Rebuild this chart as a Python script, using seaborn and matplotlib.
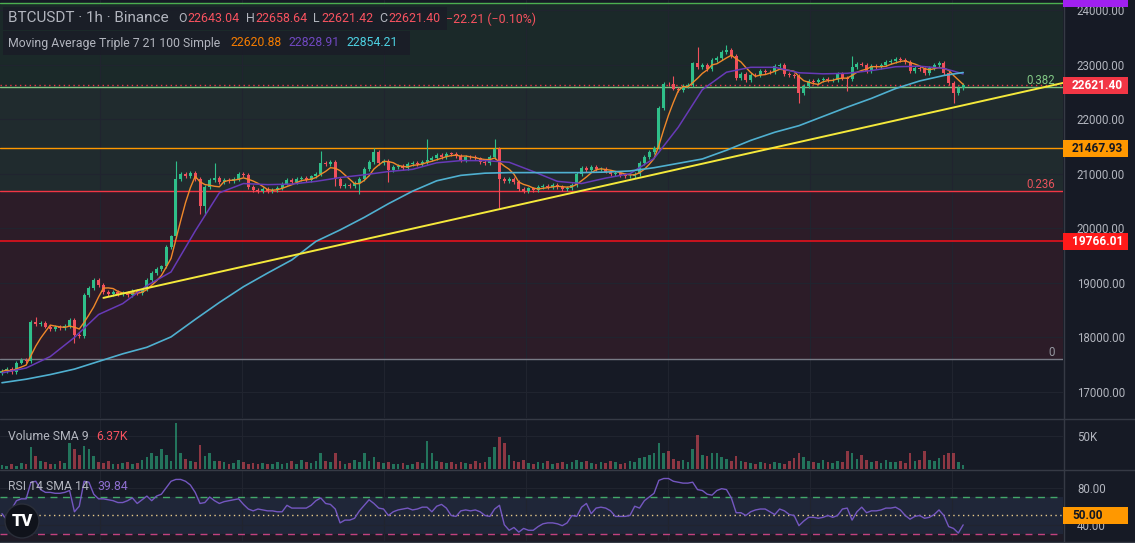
import numpy as np
import pandas as pd
import matplotlib
matplotlib.use("Agg")
import matplotlib.pyplot as plt
import seaborn as sns
from matplotlib.patches import Rectangle, Circle
from matplotlib.lines import Line2D
from matplotlib.transforms import IdentityTransform, blended_transform_factory

# ---- data (1h candles, BTCUSDT) ----
close = [17380, 17420, 17360, 17540, 17590, 17560, 18280, 18240, 18260, 18200,
         18150, 18190, 18170, 18210, 18320, 18050, 18020, 18780, 18900, 19050,
         18960, 18830, 18800, 18840, 18790, 18810, 18780, 18850, 18820, 18880,
         19050, 19180, 19260, 19300, 19650, 19850, 20900, 21000, 20950, 21010,
         20900, 20400, 20750, 20880, 20920, 20850, 20880, 20860, 20900, 21000,
         20980, 20750, 20700, 20690, 20720, 20680, 20700, 20740, 20820, 20880,
         20850, 20900, 20920, 20880, 20950, 21000, 21200, 21180, 21220, 20900,
         20780, 20800, 20780, 20830, 20900, 21080, 21220, 21400, 21200, 21230,
         21060, 21120, 21150, 21110, 21180, 21200, 21170, 21220, 21260, 21290,
         21340, 21300, 21370, 21360, 21330, 21250, 21310, 21300, 21280, 21220,
         21190, 21300, 21450, 20900, 20860, 20900, 20850, 20720, 20690, 20730,
         20700, 20760, 20780, 20750, 20800, 20760, 20720, 20740, 20800, 21000,
         21100, 21060, 21120, 21080, 21090, 21040, 20990, 21010, 20980, 20950,
         20960, 21000, 21200, 21300, 21400, 21480, 22200, 22650, 22640, 22560,
         22540, 22600, 22620, 23020, 22960, 22990, 22920, 23080, 23120, 23230,
         23260, 23160, 22760, 22830, 22720, 22810, 22800, 22880, 22870, 22860,
         22970, 22990, 22830, 22810, 22790, 22480, 22610, 22700, 22680, 22710,
         22730, 22710, 22720, 22830, 22760, 22740, 22950, 23010, 23000, 22880,
         22970, 22950, 23000, 23040, 23060, 23100, 23090, 23050, 22880, 22930,
         22920, 22850, 22940, 22990, 23030, 22850, 22660, 22480, 22570, 22621.4]
first_open = 17350

# long wicks (USD beyond the body); other candles use a short default wick
default_wick = 35
hi_wicks = {7: 100, 36: 340, 44: 270, 66: 220, 77: 80, 88: 380, 102: 190,
            139: 150, 144: 300, 150: 100, 176: 210}
lo_wicks = {15: 150, 41: 130, 42: 160, 69: 120, 74: 210, 80: 220, 103: 520,
            165: 180, 175: 220, 197: 180}

volume_k = [6, 5, 8, 5, 9, 7, 33, 20, 12, 10,
            8, 7, 12, 9, 40, 30, 22, 35, 30, 20,
            10, 9, 12, 8, 7, 9, 10, 8, 9, 14,
            18, 25, 20, 30, 22, 12, 70, 25, 15, 12,
            10, 36, 20, 25, 12, 12, 10, 8, 9, 14,
            10, 8, 9, 7, 9, 8, 7, 10, 8, 9,
            12, 8, 14, 10, 9, 12, 25, 12, 10, 25,
            12, 8, 9, 14, 10, 25, 12, 18, 10, 9,
            11, 8, 7, 9, 6, 8, 10, 9, 42, 25,
            12, 10, 9, 11, 8, 10, 9, 8, 12, 9,
            10, 18, 33, 48, 39, 22, 12, 10, 14, 9,
            8, 10, 9, 12, 8, 9, 10, 8, 11, 14,
            10, 12, 9, 8, 10, 9, 12, 10, 8, 9,
            12, 10, 16, 18, 22, 25, 39, 25, 28, 15,
            12, 14, 10, 30, 52, 22, 20, 25, 25, 18,
            15, 12, 20, 12, 10, 9, 8, 11, 9, 8,
            10, 9, 8, 12, 16, 25, 18, 12, 10, 9,
            14, 11, 9, 12, 10, 28, 25, 15, 22, 14,
            10, 12, 9, 14, 11, 10, 12, 9, 25, 12,
            14, 27, 14, 12, 16, 22, 25, 25, 10, 6]

rsi = [52, 45, 57, 66, 68, 68, 86, 87, 78, 75,
       75, 74, 74, 75, 77, 54, 60, 87, 86, 73,
       68, 68, 67, 66, 64, 64, 66, 69, 63, 67,
       71, 66, 71, 73, 80, 87, 89, 89, 87, 83,
       75, 63, 64, 70, 66, 63, 65, 66, 67, 68,
       62, 57, 55, 57, 56, 55, 55, 54, 54, 61,
       58, 58, 58, 58, 61, 66, 69, 63, 62, 57,
       42, 45, 45, 47, 55, 61, 67, 63, 58, 57,
       50, 54, 56, 57, 58, 56, 57, 59, 59, 54,
       60, 62, 58, 50, 49, 55, 56, 55, 56, 54,
       50, 49, 57, 61, 40, 34, 37, 32, 36, 34,
       34, 38, 41, 42, 42, 41, 39, 42, 50, 49,
       59, 63, 52, 58, 59, 58, 55, 49, 49, 49,
       50, 60, 58, 66, 70, 74, 88, 90, 90, 87,
       86, 85, 85, 86, 78, 77, 73, 72, 77, 79,
       78, 69, 53, 53, 50, 54, 56, 57, 57, 54,
       51, 57, 55, 51, 50, 39, 44, 48, 48, 47,
       48, 50, 48, 50, 57, 58, 45, 54, 59, 53,
       55, 55, 56, 58, 58, 59, 56, 50, 46, 49,
       50, 47, 48, 51, 56, 50, 38, 36, 31, 39.84]

# moving averages read every 5 hours
ma_hours = list(range(0, 200, 5)) + [199]
sma21 = [17350, 17440, 17650, 18000, 18420, 18620, 18950, 19200, 19950, 20650,
         20820, 20800, 20810, 20860, 20930, 20980, 21040, 21080, 21200, 21240,
         21240, 21210, 21040, 20860, 20820, 20920, 21000, 21280, 21850, 22540,
         22860, 22950, 22950, 22850, 22830, 22840, 22890, 22960, 22970, 22930, 22828.91]
sma100 = [17170, 17235, 17320, 17420, 17560, 17700, 17820, 18010, 18330, 18640,
          18930, 19180, 19420, 19760, 19970, 20200, 20450, 20680, 20870, 20970,
          21010, 21020, 21020, 21020, 21020, 21030, 21050, 21110, 21190, 21270,
          21430, 21610, 21760, 21880, 22050, 22220, 22380, 22560, 22700, 22800, 22854.21]

trend_hours = [21, 219.7]
trend_prices = [18725, 22664]

fib_low, fib_high = 17605, 30647
fib_levels = [0, 0.236, 0.382, 0.5]
fib_colors = ['#787b86', '#f23645', '#81c784', '#4caf50']
level_orange = 21467.93
level_red = 19766.01
last_price = 22621.40
price_ticks = [17000, 18000, 19000, 20000, 21000, 22000, 23000, 24000]

# ---- frame ----
df = pd.DataFrame({'hour': np.arange(len(close)), 'close': close,
                   'volume': np.array(volume_k) * 1000.0, 'rsi': rsi})
df['open'] = df['close'].shift(1).fillna(first_open)
df['high'] = df[['open', 'close']].max(axis=1) + [hi_wicks.get(i, default_wick) for i in df.hour]
df['low'] = df[['open', 'close']].min(axis=1) - [lo_wicks.get(i, default_wick) for i in df.hour]
df['up'] = df['close'] >= df['open']
df['sma7'] = df['close'].rolling(5, min_periods=1).mean()
fib_prices = [fib_low + r * (fib_high - fib_low) for r in fib_levels]

BG = '#161a25'
TXT = '#b2b5be'
UP, DOWN = '#2fbf8a', '#f0505c'
SEP = '#363a45'
GRID = '#20242f'

sns.set_style("dark", rc={'axes.facecolor': BG, 'figure.facecolor': BG})
plt.rcParams['font.family'] = ['Roboto', 'DejaVu Sans']

W, H = 1135, 543
fig = plt.figure(figsize=(W / 100, H / 100), dpi=100)
px = IdentityTransform()


def fy(y):
    return 1 - y / H


ax = fig.add_axes([0, fy(418), 1063 / W, 418 / H])
axv = fig.add_axes([0, fy(469), 1063 / W, 50 / H], sharex=ax)
axr = fig.add_axes([0, fy(541), 1063 / W, 71 / H], sharex=ax)

xlim = (-0.41, 219.67)
ax.set_xlim(*xlim)
ax.set_ylim(16524, 24183)
axv.set_ylim(0, 76000)
axr.set_ylim(22.4, 99.2)

grid_hours = np.arange(20.3, 220, 29.4)
for a in (ax, axv, axr):
    a.set_facecolor(BG)
    for s in a.spines.values():
        s.set_visible(False)
    a.set_xticks(grid_hours)
    a.tick_params(axis='x', labelbottom=False, length=0)
    a.yaxis.tick_right()
    a.tick_params(axis='y', colors=TXT, labelsize=8.3, length=0, pad=10)
    a.grid(True, color=GRID, lw=0.8, zorder=0)
    a.set_axisbelow(True)

# ---- main price pane ----
ax.set_yticks(price_ticks)
ax.set_yticklabels([f'{p:.2f}' for p in price_ticks])

for lo_p, hi_p, c in zip(fib_prices[:-1], fib_prices[1:], fib_colors[1:]):
    ax.axhspan(lo_p, hi_p, color=c, alpha=0.1, lw=0, zorder=0.5)
for p, c in zip(fib_prices, fib_colors):
    ax.axhline(p, color=c, lw=1, zorder=1)
ax.axhline(level_orange, color='#ff9800', lw=1, zorder=1)
ax.axhline(level_red, color='#e3121d', lw=1.2, zorder=1)
ax.axhline(last_price, color='#f23645', lw=1, ls=(0, (1, 2.5)), zorder=1)

colors = np.where(df['up'], UP, DOWN)
ax.vlines(df['hour'], df['low'], df['high'], colors=colors, lw=0.8, zorder=2)
body = (df['close'] - df['open']).abs().clip(lower=12)
ax.bar(df['hour'], body, bottom=df[['open', 'close']].min(axis=1), width=0.62,
       color=colors, lw=0, zorder=3)

sns.lineplot(x=df['hour'], y=df['sma7'], ax=ax, color='#f0882a', lw=1, zorder=4)
sns.lineplot(x=ma_hours, y=sma21, ax=ax, color='#673ab7', lw=1.1, zorder=4)
sns.lineplot(x=ma_hours, y=sma100, ax=ax, color='#4fb0d0', lw=1.2, zorder=4)
sns.lineplot(x=trend_hours, y=trend_prices, ax=ax, color='#f5e93b', lw=1.4, zorder=5)
ax.set_xlabel('')
ax.set_ylabel('')

blend = blended_transform_factory(ax.transAxes, ax.transData)
for p, r, c in zip(fib_prices[:3], fib_levels[:3], ['#9598a1', '#e8535c', '#81c784']):
    lab = '0' if r == 0 else f'{r:g}'
    ax.annotate(lab, xy=(1, p), xycoords=blend, xytext=(-6, 5), textcoords='offset points',
                ha='right', va='center', color=c, fontsize=8.3)

# ---- volume pane ----
axv.bar(df['hour'], df['volume'], width=0.55, color=colors, alpha=0.55, lw=0, zorder=2)
axv.set_yticks([50000])
axv.set_yticklabels(['50K'])

# ---- RSI pane ----
axr.axhspan(30, 70, color='#1f2638', lw=0, zorder=0.5)
axr.axhspan(22.4, 30, color='#f23645', alpha=0.04, lw=0, zorder=0.5)
axr.axhline(70, color='#43a86a', lw=1, ls=(0, (5, 4)), zorder=1)
axr.axhline(30, color='#c2417f', lw=1, ls=(0, (5, 4)), zorder=1)
axr.axhline(50, color='#e6c98a', lw=1, ls=(0, (1, 2.5)), zorder=1)
sns.lineplot(x=df['hour'], y=df['rsi'], ax=axr, color='#7457c0', lw=1, zorder=3)
axr.set_yticks([40, 80])
axr.set_yticklabels(['40.00', '80.00'])
for a in (axv, axr):
    a.set_xlabel('')
    a.set_ylabel('')
    a.set_xlim(*xlim)

# ---- separators ----
for y in (418.5, 469.5, 541.5):
    fig.add_artist(Line2D([0, W], [H - y, H - y], transform=px, color=SEP, lw=1))
fig.add_artist(Line2D([1063.5, 1063.5], [0, H], transform=px, color=SEP, lw=1))


# ---- price labels on the scale ----
def scale_label(axis, value, text, fc, tc):
    yd = axis.transData.transform((0, value))[1]
    fig.add_artist(Rectangle((1063, yd - 8.5), 65, 17, transform=px, fc=fc, ec='none', zorder=5))
    fig.text(1072 / W, yd / H, text, color=tc, fontsize=8.6, fontweight='bold',
             va='center', ha='left', zorder=6)


scale_label(ax, last_price, f'{last_price:.2f}', '#f23645', 'white')
scale_label(ax, level_orange, f'{level_orange:.2f}', '#ff9800', '#131722')
scale_label(ax, level_red, f'{level_red:.2f}', '#ff1a1a', 'white')
scale_label(axr, 50, '50.00', '#ff9800', '#131722')
fig.add_artist(Rectangle((1063, H - 7), 65, 9, transform=px, fc='#a020f0', ec='none', zorder=5))

# ---- legends ----
fig.add_artist(Rectangle((3, H - 30), 444, 23, transform=px, fc='#1a1d27', ec='none', alpha=0.9, zorder=4))
fig.add_artist(Rectangle((3, H - 55), 407, 24, transform=px, fc='#1a1d27', ec='none', alpha=0.9, zorder=4))
renderer = fig.canvas.get_renderer()


def write_row(parts, x0, y, size):
    x = x0
    for s, c, gap in parts:
        t = fig.text(x / W, fy(y), s, color=c, fontsize=size, va='center', ha='left', zorder=6)
        x += t.get_window_extent(renderer=renderer).width + gap


RED = '#f7525f'
write_row([('BTCUSDT · 1h · Binance', TXT, 8)], 8, 18, 11)
write_row([('O', TXT, 1), ('22643.04', RED, 6), ('H', TXT, 1), ('22658.64', RED, 6),
           ('L', TXT, 1), ('22621.42', RED, 6), ('C', TXT, 1), ('22621.40', RED, 6),
           ('−22.21 (−0.10%)', RED, 0)], 178, 19, 8.9)
write_row([('Moving Average Triple 7 21 100 Simple', TXT, 10), ('22620.88', '#f57c00', 7),
           ('22828.91', '#7048c0', 7), ('22854.21', '#4dd0e1', 0)], 8, 43, 8.8)
write_row([('Volume SMA 9', TXT, 8), ('6.37K', RED, 0)], 8, 436, 8.8)
write_row([('RSI 14 SMA 14', TXT, 8), ('39.84', '#8e6fd0', 0)], 8, 487, 8.8)

# TradingView badge
fig.add_artist(Circle((22, H - 521), 17, transform=px, fc='#10131b', ec='#2a2e39', lw=1, zorder=6))
fig.text(22 / W, fy(521), 'TV', color='white', fontsize=12, fontweight='heavy',
         ha='center', va='center', zorder=7)

fig.savefig('out.png', dpi=100, facecolor=BG)
